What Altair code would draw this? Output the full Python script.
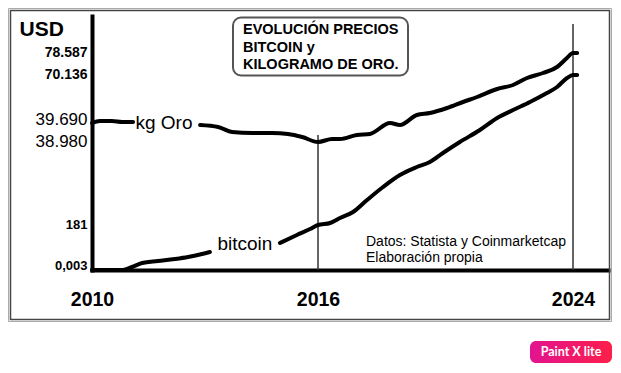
import altair as alt
import pandas as pd

# ---- data (x = year, y = drawn level on the hand-made axis) ----
gold_year = [2010.00, 2010.21, 2010.53, 2010.80, 2011.09,
             2012.87, 2013.35, 2013.72, 2014.25, 2014.78, 2015.20, 2015.58, 2016.00,
             2016.44, 2016.69, 2017.22, 2017.63, 2018.26, 2018.57, 2019.10, 2019.51,
             2020.05, 2020.55, 2020.99, 2021.62, 2022.12, 2022.56, 2023.06, 2023.50,
             2023.81, 2024.00, 2024.13]
gold_level = [147, 149, 149, 148, 148,
              145, 143, 138, 137, 137, 136, 133, 128,
              131, 131, 135, 136, 147, 145, 155, 157,
              162, 168, 173, 181, 185, 192, 197, 203,
              212, 217, 217]
gold_seg = [1] * 5 + [2] * 27

btc_year = [2010.00, 2010.82, 2011.06, 2011.33, 2011.75, 2012.20, 2012.55, 2012.92, 2013.13,
            2014.99, 2015.44, 2015.79, 2016.00, 2016.38, 2016.69, 2017.10, 2017.54, 2018.04,
            2018.57, 2019.10, 2019.51, 2019.92, 2020.45, 2021.08, 2021.62, 2022.12, 2022.65,
            2023.18, 2023.50, 2023.81, 2024.00, 2024.13]
btc_level = [0, 0, 3, 7, 9, 11, 13, 16, 18,
             27, 35, 41, 45, 47, 52, 58, 70, 83,
             95, 103, 108, 117, 128, 140, 152, 160, 168,
             177, 183, 192, 195, 195]
btc_seg = [1] * 9 + [2] * 23

tick_levels = [218, 196, 151, 129, 46, 5]
tick_labels = ["78.587", "70.136", "39.690", "38.980", "181", "0,003"]
label_shift = [1, 1, 0, 0, 2, 1]          # non-breaking spaces to mimic hand placement
x_ticks = [2010, 2016, 2024]

rule_year = [2016, 2024]
rule_top = [135, 246]

series_labels = ["kg Oro", "bitcoin"]
series_label_year = [2011.91, 2014.06]
series_label_level = [147, 26]

title_lines = ["EVOLUCIÓN PRECIOS", "BITCOIN y", "KILOGRAMO DE ORO."]
source_lines = ["Datos: Statista y Coinmarketcap", "Elaboración propia"]

# ---- tables ----
lines_df = pd.DataFrame({
    "year": gold_year + btc_year,
    "level": gold_level + btc_level,
    "key": [f"oro{s}" for s in gold_seg] + [f"btc{s}" for s in btc_seg],
})
rules_df = pd.DataFrame({"year": rule_year, "top": rule_top, "bottom": [0, 0]})
lab_df = pd.DataFrame({"label": series_labels, "year": series_label_year,
                       "level": series_label_level})

W, H = 516, 254
FONT = "Liberation Sans, Arial, sans-serif"

xscale = alt.Scale(domain=[2010, 2016, 2024, 2025.1], range=[0, 226, 481, 516],
                   nice=False, zero=False)
yscale = alt.Scale(domain=[0, 254], nice=False, zero=False)

nb = "\u00a0"
expr = ""
for v, t, s in zip(tick_levels, tick_labels, label_shift):
    expr += f"datum.value == {v} ? '{t}{nb * s}' : "
expr += "''"

xaxis = alt.Axis(values=x_ticks, format="d", labelFont=FONT,
                 labelFontSize=19.5, labelFontWeight="bold", labelColor="black",
                 ticks=False, tickSize=0, domainColor="black", domainWidth=4, domainCap="square",
                 grid=False, title=None, labelPadding=20, labelFlush=False, labelOverlap=False)
yaxis = alt.Axis(values=tick_levels, labelExpr=expr, ticks=False, tickSize=0, labelPadding=5,
                 domainColor="black", domainWidth=4, domainCap="square", grid=False,
                 labelFont=FONT, labelColor="black", labelOverlap=False, labelFlush=False,
                 labelFontSize={"condition": [{"test": "datum.value == 151 || datum.value == 129", "value": 17},
                                              {"test": "datum.value >= 196", "value": 14}],
                                "value": 13},
                 labelFontWeight={"condition": {"test": "datum.value == 151 || datum.value == 129",
                                                "value": "normal"}, "value": "bold"},
                 title="USD", titleAngle=0, titleAlign="left", titleBaseline="alphabetic",
                 titleX=-73, titleY=19, titleFontSize=21, titleFontWeight="bold",
                 titleFont=FONT, titleColor="black")

one = alt.Data(values=[{}])

frame_outer = alt.Chart(one).mark_rect(fillOpacity=0, stroke="#aaaaaa", strokeWidth=1).encode(
    x=alt.value(-83.5), x2=alt.value(519.5), y=alt.value(-7.5), y2=alt.value(305.5))
frame_inner = alt.Chart(one).mark_rect(fillOpacity=0, stroke="#444444", strokeWidth=1.5).encode(
    x=alt.value(-81.5), x2=alt.value(517.5), y=alt.value(-5.5), y2=alt.value(303.5))

rules = alt.Chart(rules_df).mark_rule(color="#333333", strokeWidth=1.5).encode(
    x=alt.X("year:Q", scale=xscale, axis=xaxis),
    y=alt.Y("top:Q", scale=yscale, axis=yaxis),
    y2="bottom:Q")

lines = alt.Chart(lines_df).mark_line(color="black", strokeWidth=4, strokeCap="round",
                                      strokeJoin="round", interpolate="monotone").encode(
    x=alt.X("year:Q", scale=xscale),
    y=alt.Y("level:Q", scale=yscale),
    detail="key:N")

labels = alt.Chart(lab_df).mark_text(font=FONT, fontSize=19, color="black", align="center",
                                     baseline="middle").encode(
    x=alt.X("year:Q", scale=xscale),
    y=alt.Y("level:Q", scale=yscale),
    text="label:N")

title_box = alt.Chart(one).mark_rect(fillOpacity=0, stroke="#555555", strokeWidth=2,
                                     cornerRadius=8).encode(
    x=alt.value(141), x2=alt.value(316), y=alt.value(1.5), y2=alt.value(59.5))
title_txt = alt.Chart(one).mark_text(text=title_lines, font=FONT, fontSize=14.5, fontWeight="bold",
                                     align="left", baseline="middle", lineHeight=17.5,
                                     color="black").encode(
    x=alt.value(151), y=alt.value(14))

source_txt = alt.Chart(one).mark_text(text=source_lines, font=FONT, fontSize=14,
                                      align="left", baseline="middle", lineHeight=16,
                                      color="black").encode(
    x=alt.value(274), y=alt.value(226))

grad = alt.Gradient(gradient="linear",
                    stops=[alt.GradientStop(color="#e2138f", offset=0),
                           alt.GradientStop(color="#fd1f4a", offset=1)],
                    x1=0, x2=1, y1=0, y2=0)
button = alt.Chart(one).mark_rect(fill=grad, cornerRadius=6).encode(
    x=alt.value(438), x2=alt.value(520), y=alt.value(325), y2=alt.value(347))
button_txt = alt.Chart(one).mark_text(text="Paint X lite", font="Lato, Liberation Sans, sans-serif",
                                      fontSize=12.5, fontWeight="bold", color="white",
                                      align="center", baseline="middle").encode(
    x=alt.value(479), y=alt.value(336))

chart = alt.layer(frame_outer, frame_inner, rules, lines, labels, title_box, title_txt,
                  source_txt, button, button_txt).properties(
    width=W, height=H,
    autosize=alt.AutoSizeParams(type="none"),
    padding={"left": 84, "top": 8, "right": 4, "bottom": 93},
    background="white",
).configure_view(stroke=None)

chart.save("out.html", embed_options={"renderer": "svg", "actions": False})
